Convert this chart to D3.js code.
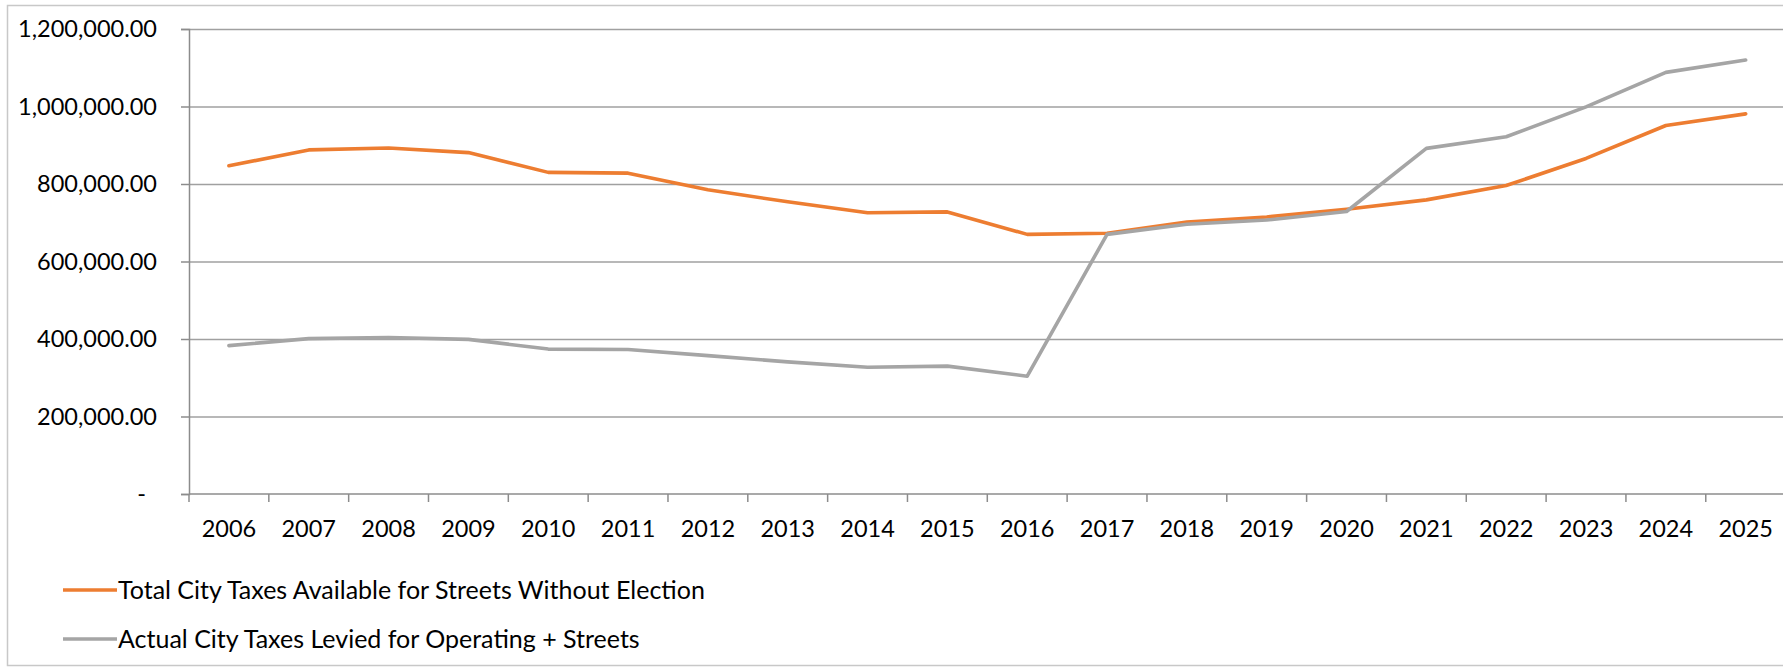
<!DOCTYPE html>
<html>
<head>
<meta charset="utf-8">
<script src="https://cdn.jsdelivr.net/npm/d3@7"></script>
<style>
body { margin: 0; background: #fff; }
svg { display: block; font-family: Lato, "Open Sans", sans-serif; }
</style>
</head>
<body>
<svg></svg>
<script>
const years = ["2006","2007","2008","2009","2010","2011","2012","2013","2014","2015","2016","2017","2018","2019","2020","2021","2022","2023","2024","2025"];
const availableWithoutElection = [847000, 888000, 893000, 881000, 830000, 828000, 785000, 754000, 726000, 728000, 670000, 673000, 702000, 715000, 735000, 759000, 796000, 866000, 951000, 981000];
const actualLevied = [383000, 401000, 404000, 399000, 374000, 373000, 357000, 341000, 327000, 330000, 304000, 670000, 696000, 707000, 729000, 892000, 922000, 999000, 1088000, 1120000];
const yTicks = [0, 200000, 400000, 600000, 800000, 1000000, 1200000];
const seriesNames = ["Total City Taxes Available for Streets Without Election", "Actual City Taxes Levied for Operating + Streets"];
const seriesColors = ["#ED7D31", "#A5A5A5"];

const W = 1783, H = 671;
const plotLeft = 189, plotTop = 29, plotBottom = 494;
const bandW = 79.83;
const plotRight = plotLeft + bandW * years.length;

const svg = d3.select("svg").attr("width", W).attr("height", H);

svg.append("rect")
  .attr("x", 7.5).attr("y", 5.5)
  .attr("width", W).attr("height", 660)
  .attr("fill", "none").attr("stroke", "#c8c8c8").attr("stroke-width", 1.5);

const x = d3.scaleBand().domain(years).range([plotLeft, plotRight]).padding(0);
const y = d3.scaleLinear().domain([0, 1200000]).range([plotBottom, plotTop]);

// gridlines
svg.append("g")
  .attr("transform", "translate(" + plotLeft + ",0)")
  .call(d3.axisLeft(y).tickValues(yTicks.slice(1)).tickSize(-(plotRight - plotLeft)).tickFormat(""))
  .call(g => g.select(".domain").remove())
  .call(g => g.selectAll("line").attr("stroke", "#a0a0a0").attr("stroke-width", 1.5));

// y axis
const fmt = d3.format(",.2f");
const yAxis = svg.append("g")
  .attr("transform", "translate(" + plotLeft + ",0)")
  .call(d3.axisLeft(y).tickValues(yTicks).tickSize(8).tickPadding(24)
    .tickFormat(d => d === 0 ? "-" : fmt(d)));
yAxis.select(".domain").attr("stroke", "#8c8c8c").attr("stroke-width", 1.5);
yAxis.selectAll("line").attr("stroke", "#8c8c8c").attr("stroke-width", 1.5);
yAxis.selectAll("text").attr("font-size", 23.5).attr("fill", "#000")
  .attr("font-family", "Lato, sans-serif")
  .filter(d => d === 0).attr("dx", -11);

// x axis line + boundary ticks
svg.append("line")
  .attr("x1", plotLeft).attr("x2", plotRight).attr("y1", y(0)).attr("y2", y(0))
  .attr("stroke", "#8c8c8c").attr("stroke-width", 1.5);
svg.append("g").selectAll("line")
  .data(years)
  .enter().append("line")
  .attr("x1", d => x(d)).attr("x2", d => x(d))
  .attr("y1", y(0)).attr("y2", y(0) + 8)
  .attr("stroke", "#8c8c8c").attr("stroke-width", 1.5);

const xAxis = svg.append("g")
  .attr("transform", "translate(0," + y(0) + ")")
  .call(d3.axisBottom(x).tickSize(0).tickPadding(26));
xAxis.select(".domain").remove();
xAxis.selectAll("text").attr("font-size", 23.5).attr("fill", "#000")
  .attr("font-family", "Lato, sans-serif");

// lines
const line = d3.line()
  .x((d, i) => x(years[i]) + x.bandwidth() / 2)
  .y(d => y(d));

[availableWithoutElection, actualLevied].forEach((vals, k) => {
  svg.append("path")
    .datum(vals)
    .attr("d", line)
    .attr("fill", "none")
    .attr("stroke", seriesColors[k])
    .attr("stroke-width", 3.6)
    .attr("stroke-linejoin", "round")
    .attr("stroke-linecap", "round");
});

// legend
const legend = svg.append("g");
const legendY = [590, 639];
seriesNames.forEach((name, k) => {
  legend.append("line")
    .attr("x1", 63).attr("x2", 117)
    .attr("y1", legendY[k]).attr("y2", legendY[k])
    .attr("stroke", seriesColors[k]).attr("stroke-width", 3.6);
  legend.append("text")
    .attr("x", 118).attr("y", legendY[k])
    .attr("dy", "0.35em")
    .attr("font-size", 25)
    .attr("fill", "#000")
    .text(name);
});
</script>
</body>
</html>
